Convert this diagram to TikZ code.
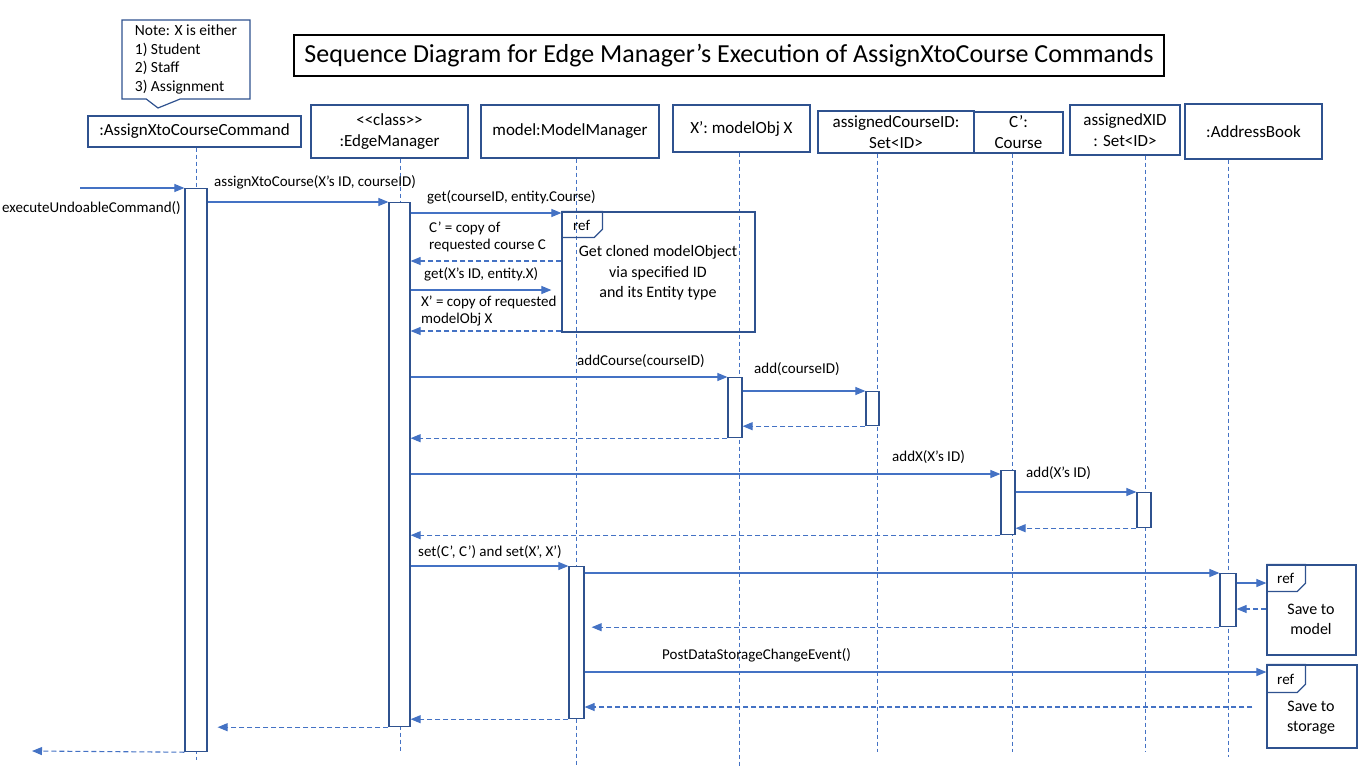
\documentclass[tikz,border=0pt]{standalone}
\usepackage{fontspec}
\setmainfont{Carlito}
\usepackage{tikz}
\usetikzlibrary{positioning,arrows.meta,shapes.callouts}
\definecolor{boxblue}{HTML}{2F528F}
\definecolor{lineblue}{HTML}{4472C4}

\begin{document}
\begin{tikzpicture}[x=1pt,y=-1pt,
  head/.style={draw=boxblue,line width=1.2pt,align=center,inner sep=2pt,
    font=\fontsize{17}{21}\selectfont},
  act/.style={draw=boxblue,line width=1.2pt,fill=white,minimum width=14pt,
    inner sep=0pt,anchor=north},
  life/.style={draw=lineblue,line width=0.9pt,dash pattern=on 4pt off 3pt},
  msg/.style={draw=lineblue,line width=1.1pt,-{Triangle[length=10pt,width=8pt]}},
  ret/.style={msg,dash pattern=on 5pt off 3pt},
  lbl/.style={inner sep=0pt,anchor=west,align=left,
    font=\fontsize{15}{17}\selectfont},
  reffr/.style={draw=boxblue,line width=1.2pt,inner sep=0pt},
  reftxt/.style={align=center,inner sep=0pt,font=\fontsize{16}{20.5}\selectfont}]
  \useasboundingbox (0,0) rectangle (1365,766);

  % title and note
  \node[draw=black,line width=1.2pt,minimum width=870pt,minimum height=41pt,
    font=\fontsize{26}{30}\selectfont] (title) at (729,55.5)
    {Sequence Diagram for Edge Manager’s Execution of AssignXtoCourse Commands};
  \node[rectangle callout,draw=boxblue,line width=1.2pt,fill=white,
    minimum width=128pt,minimum height=79pt,callout absolute pointer={(158,108)},
    callout pointer width=34pt,align=left,font=\fontsize{15.5}{18.7}\selectfont]
    (note) at (186,59.5) {Note: X is either\\1) Student\\2) Staff\\3) Assignment};

  % participants
  \node[head,minimum width=213pt,minimum height=31pt] (cmd) at (194.5,131.5) {:AssignXtoCourseCommand};
  \node[head,minimum width=157pt,minimum height=53pt] (edge) at (389.5,131.5)
    {<\kern0pt<class>\kern0pt>\\:EdgeManager};
  \node[head,minimum width=178pt,minimum height=53pt] (mm) at (570,131.5) {model:ModelManager};
  \node[head,minimum width=137pt,minimum height=47pt] (xobj) at (741.5,128.5) {X’: modelObj X};
  \node[head,minimum width=156pt,minimum height=42pt] (acid) at (896,132) {assignedCourseID:\\Set<ID>};
  \node[head,minimum width=89pt,minimum height=41pt] (course) at (1018.5,132.5) {C’:\\Course};
  \node[head,minimum width=110pt,minimum height=50pt] (xid) at (1125,130) {assignedXID\\: Set<ID>};
  \node[head,minimum width=137pt,minimum height=55pt] (ab) at (1253.5,131.5) {:AddressBook};

  % lifelines
  \foreach \h/\x/\e in {cmd/196/760,edge/400/752,mm/576/766,xobj/739/766,
      acid/877/752,course/1012/752,xid/1145/752,ab/1228/757}
    \draw[life] (\h.south -| \x,0) -- (\x,\e);

  % activations
  \node[act,minimum width=22pt,minimum height=563pt] (a1) at (196,188) {};
  \node[act,minimum width=21pt,minimum height=524pt] (a2) at (399.5,202) {};
  \node[act,minimum height=60pt] (a3) at (735,377) {};
  \node[act,minimum width=13pt,minimum height=34pt] (a4) at (872.5,391) {};
  \node[act,minimum height=64pt] (a5) at (1008,470) {};
  \node[act,minimum height=35pt] (a6) at (1144,492) {};
  \node[act,minimum width=15pt,minimum height=152pt] (a7) at (576.5,566) {};
  \node[act,minimum width=16pt,minimum height=53pt] (a8) at (1228,573) {};

  % ref frames
  \node[reffr,minimum width=193pt,minimum height=120pt] (ref1) at (658.5,272) {};
  \draw[reffr] (ref1.north west) -- ++(41,0) -- ++(0,18) -- ++(-8,8) -- ++(-33,0);
  \node[lbl] (ref1tag) at (573,225) {ref};
  \node[reftxt] (ref1txt) at (658,273) {Get cloned modelObject\\via specified ID\\and its Entity type};
  \node[reffr,minimum width=89pt,minimum height=90pt] (ref2) at (1311.5,610) {};
  \draw[reffr] (ref2.north west) -- ++(39,0) -- ++(0,19) -- ++(-8,8) -- ++(-31,0);
  \node[lbl] (ref2tag) at (1277,578) {ref};
  \node[reftxt] (ref2txt) at (1311,619.5) {Save to\\model};
  \node[reffr,minimum width=90pt,minimum height=83pt] (ref3) at (1312,706.5) {};
  \draw[reffr] (ref3.north west) -- ++(39,0) -- ++(0,20) -- ++(-8,8) -- ++(-31,0);
  \node[lbl] (ref3tag) at (1277,679) {ref};
  \node[reftxt] (ref3txt) at (1311,717.5) {Save to\\storage};

  % messages
  \coordinate (in) at (80,188);
  \coordinate (out) at (32,751);
  \draw[msg] (in) -- (a1.north west);
  \draw[msg] (a1.east |- 0,202) -- (a2.north west);
  \draw[msg] (a2.east |- 0,213) -- (ref1.west |- 0,213);
  \draw[ret] (ref1.west |- 0,261) -- (a2.east |- 0,261);
  \draw[msg,shorten >=10pt] (a2.east |- 0,290) -- (ref1.west |- 0,290);
  \draw[ret] (ref1.west |- 0,331) -- (a2.east |- 0,331);
  \draw[msg] (a2.east |- 0,377) -- (a3.north west);
  \draw[msg] (a3.east |- 0,391) -- (a4.north west);
  \draw[ret] (a4.south west) -- (a3.east |- a4.south);
  \draw[ret] (a3.south west) -- (a2.east |- a3.south);
  \draw[msg] (a2.east |- 0,474) -- (a5.west |- 0,474);
  \draw[msg] (a5.east |- 0,492) -- (a6.north west);
  \draw[ret] (a6.south west) -- (a5.east |- a6.south);
  \draw[ret] (a5.south west) -- (a2.east |- a5.south);
  \draw[msg] (a2.east |- 0,566) -- (a7.north west);
  \draw[msg] (a7.east |- 0,573) -- (a8.north west);
  \draw[msg] (a8.east |- 0,583) -- (ref2.west |- 0,583);
  \draw[ret] (ref2.west |- 0,609) -- (a8.east |- 0,609);
  \draw[ret,shorten >=7pt] (a8.south west) -- (a7.east |- a8.south);
  \draw[msg] (a7.east |- 0,672) -- (ref3.west |- 0,672);
  \draw[ret,shorten <=14pt] (ref3.west |- 0,707) -- (a7.east |- 0,707);
  \draw[ret] (a7.south west) -- (a2.east |- a7.south);
  \draw[ret,shorten >=10pt] (a2.south west) -- (a1.east |- a2.south);
  \draw[ret] (a1.south west) -- (out);

  % message labels
  \node[lbl] (l1) at (2,208) {executeUndoableCommand()};
  \node[lbl] (l2) at (214,182) {assignXtoCourse(X’s ID, courseID)};
  \node[lbl] (l3) at (427,197) {get(courseID, entity.Course)};
  \node[lbl] (l4) at (429,236.5) {C’ = copy of\\requested course C};
  \node[lbl] (l5) at (424,274) {get(X’s ID, entity.X)};
  \node[lbl] (l6) at (421,310.5) {X’ = copy of requested\\modelObj X};
  \node[lbl] (l7) at (577,361) {addCourse(courseID)};
  \node[lbl] (l8) at (754,369) {add(courseID)};
  \node[lbl] (l9) at (892,457) {addX(X’s ID)};
  \node[lbl] (l10) at (1026,473) {add(X’s ID)};
  \node[lbl] (l11) at (418,552) {set(C’, C’) and set(X’, X’)};
  \node[lbl] (l12) at (662,655) {PostDataStorageChangeEvent()};
\end{tikzpicture}
\end{document}
